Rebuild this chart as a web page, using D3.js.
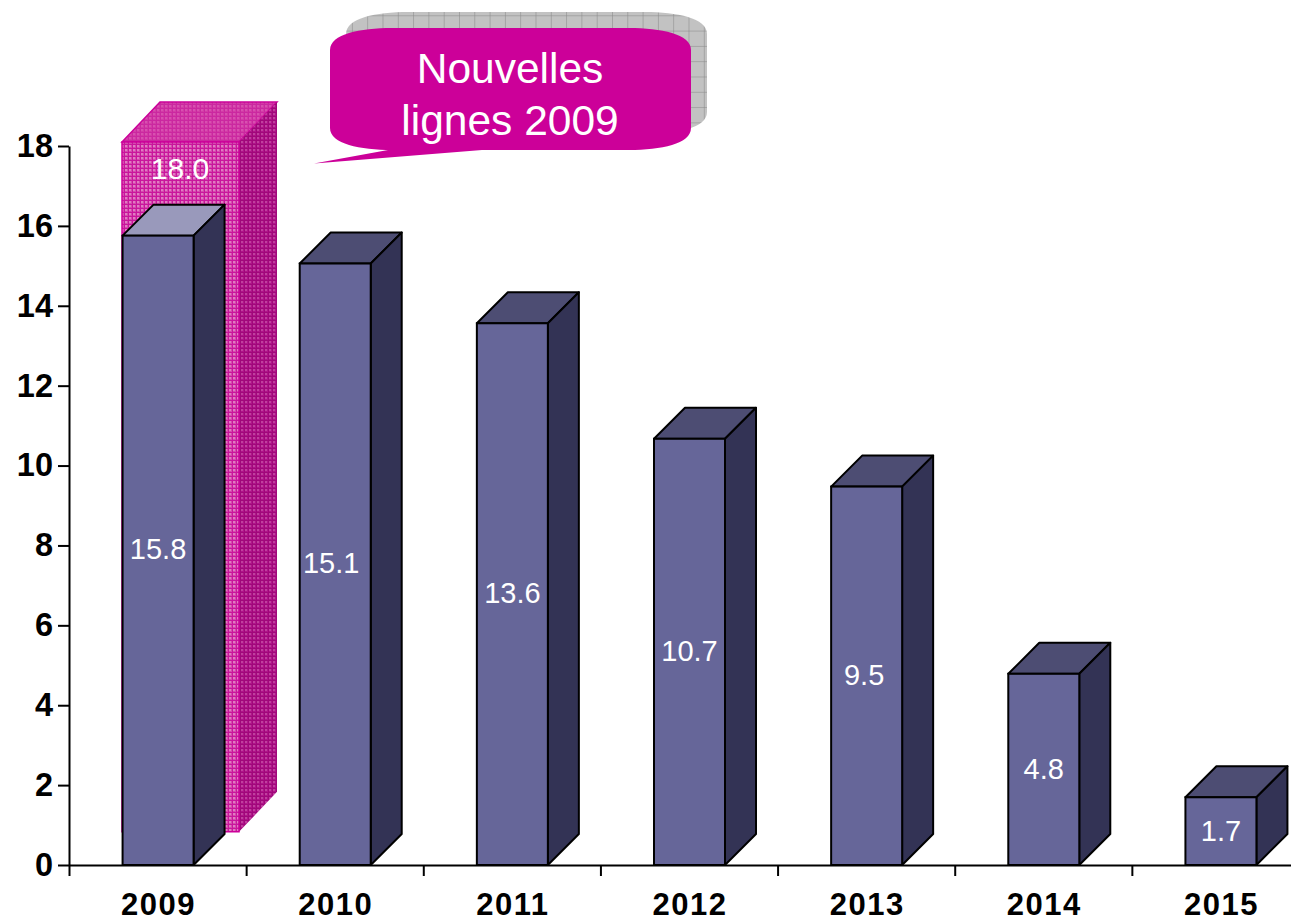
<!DOCTYPE html>
<html><head><meta charset="utf-8">
<script src="https://cdn.jsdelivr.net/npm/d3@7"></script>
<style>html,body{margin:0;padding:0;background:#fff}svg{display:block}text{font-family:"Liberation Sans",Arial,sans-serif}</style>
</head><body><svg id="c" width="1291" height="922"></svg>
<script>
const years=["2009","2010","2011","2012","2013","2014","2015"];
const values=[15.8,15.1,13.6,10.7,9.5,4.8,1.7];
const yTicks=[0,2,4,6,8,10,12,14,16,18];
const highlightYear="2009";
const highlightLabel="18.0";
const highlightTop=18.1;
const highlightBase=0.83;
const calloutLines=["Nouvelles","lignes 2009"];

const svg=d3.select("#c");
const y=d3.scaleLinear().domain([0,18]).range([865,146]);
const yBar=d3.scaleLinear().domain([0,18]).range([865,148]);
const x=d3.scaleBand().domain(years).range([69,1309]);
const edge=d3.scaleLinear().domain([0,7]).range([69,1309]);
const barW=71, dep=31;
const labelNudge={"2010":-4,"2013":-2.5};
const defs=svg.append("defs");
function pat(id,bg,line,dot){
  const p=defs.append("pattern").attr("id",id).attr("width",4).attr("height",4).attr("patternUnits","userSpaceOnUse");
  p.append("rect").attr("width",4).attr("height",4).attr("fill",bg);
  p.append("rect").attr("width",2).attr("height",2).attr("x",1).attr("y",1).attr("fill",dot);
  p.append("rect").attr("width",4).attr("height",1).attr("fill",line);
  p.append("rect").attr("width",1).attr("height",4).attr("fill",line);
}
pat("pFront","#d54aae","#c9169c","#e07cc2");
pat("pTop","#d23ca6","#cb28a0","#d850b0");
pat("pSide","#b0148a","#a0087a","#c0409e");
const g0=defs.append("pattern").attr("id","pGrey").attr("width",15.3).attr("height",15.3).attr("patternUnits","userSpaceOnUse");
g0.append("rect").attr("width",15.3).attr("height",15.3).attr("fill","#c2c2c2");
g0.append("path").attr("d","M0 0H15.3M0 0V15.3").attr("stroke","#858585").attr("stroke-width",1);

// highlight block
const hx=122, hw=117, hdx=38, hdy=40;
const hT=y(highlightTop), hB=y(highlightBase);
svg.append("path").attr("d",`M${hx} ${hT}l${hdx} ${-hdy}h${hw}l${-hdx} ${hdy}z`).attr("fill","url(#pTop)").attr("stroke","#cc0099").attr("stroke-width",1.5);
svg.append("path").attr("d",`M${hx+hw} ${hT}l${hdx} ${-hdy}V${hB-hdy}l${-hdx} ${hdy}z`).attr("fill","url(#pSide)");
svg.append("path").attr("d",`M${hx} ${hT}h${hw}V${hB}H${hx}z`).attr("fill","url(#pFront)").attr("stroke","#cc0099").attr("stroke-width",1.5);
svg.append("text").attr("x",180).attr("y",179).attr("text-anchor","middle").attr("font-size",30).attr("fill","#fff").text(highlightLabel);

// callout
function blob(l,t,w,h){const rx=62,ry=22;
  return `M${l} ${t+ry}C${l} ${t+6} ${l+30} ${t} ${l+rx} ${t}H${l+w-rx}C${l+w-30} ${t} ${l+w} ${t+6} ${l+w} ${t+ry}V${t+h-ry}C${l+w} ${t+h-6} ${l+w-30} ${t+h} ${l+w-rx} ${t+h}H${l+rx}C${l+30} ${t+h} ${l} ${t+h-6} ${l} ${t+h-ry}Z`;}
svg.append("path").attr("d",blob(346,12,361,122)).attr("fill","url(#pGrey)");
svg.append("path").attr("d",blob(330,28,361,122)).attr("fill","#cc0099");
svg.append("path").attr("d","M388 150L314 163.5L482 150Z").attr("fill","#cc0099");
const cl=svg.append("text").attr("text-anchor","middle").attr("font-size",42.5).attr("fill","#fff");
calloutLines.forEach((t,i)=>cl.append("tspan").attr("x",510).attr("y",i?135:83).text(t));

// bars
const bars=svg.append("g").selectAll("g").data(years.map((c,i)=>({c,v:values[i]}))).join("g");
const X=d=>x(d.c)+x.bandwidth()/2-barW/2+0.5;
bars.append("path").attr("d",d=>`M${X(d)} ${yBar(d.v)}l${dep} ${-dep}h${barW}l${-dep} ${dep}z`)
  .attr("fill",d=>d.c===highlightYear?"#9999bb":"#4d4d73").attr("stroke","#000").attr("stroke-width",2).attr("stroke-linejoin","round");
bars.append("path").attr("d",d=>`M${X(d)+barW} ${yBar(d.v)}l${dep} ${-dep}V${yBar(0)-dep}l${-dep} ${dep}z`)
  .attr("fill","#333355").attr("stroke","#000").attr("stroke-width",2).attr("stroke-linejoin","round");
bars.append("rect").attr("x",X).attr("y",d=>yBar(d.v)).attr("width",barW).attr("height",d=>yBar(0)-yBar(d.v))
  .attr("fill","#666699").attr("stroke","#000").attr("stroke-width",2);
bars.append("text").attr("x",d=>X(d)+barW/2+(labelNudge[d.c]||0)).attr("y",d=>y(d.v/2)+10).attr("text-anchor","middle")
  .attr("font-size",29).attr("fill","#fff").text(d=>d.v.toFixed(1));

// axes
const ya=svg.append("g").attr("transform","translate(69,0)").call(d3.axisLeft(y).tickValues(yTicks).tickSize(11).tickSizeOuter(0).tickPadding(5));
ya.selectAll("text").attr("font-size",32.5).attr("font-weight","bold").attr("fill","#000").attr("font-family",'"Liberation Sans"');
ya.selectAll("line,path").attr("stroke","#000").attr("stroke-width",2);
const xa=svg.append("g").attr("transform","translate(0,865)").call(d3.axisBottom(edge).tickValues(d3.range(0,8)).tickSize(11).tickSizeOuter(0).tickFormat(""));
xa.selectAll("line,path").attr("stroke","#000").attr("stroke-width",2);
const xl=svg.append("g").attr("transform","translate(0,865)").call(d3.axisBottom(x).tickSize(0).tickPadding(28));
xl.select("path").remove();
xl.selectAll("text").attr("font-size",31).attr("font-weight","bold").attr("fill","#000").attr("font-family",'"Liberation Sans"').attr("letter-spacing","1.5px").attr("dx",1);
</script></body></html>
